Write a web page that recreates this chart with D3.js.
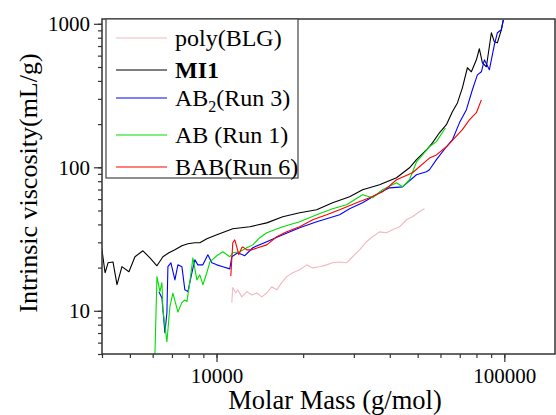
<!DOCTYPE html>
<html>
<head>
<meta charset="utf-8">
<script src="https://cdn.jsdelivr.net/npm/d3@7"></script>
<style>
    html, body { margin: 0; padding: 0; background: #fff; }
    svg { display: block; }
    svg text { font-family: "Liberation Serif", "Times New Roman", serif; }
</style>
</head>
<body>
<svg id="chart" width="556" height="415"></svg>
<script>
// Data: molar mass (g/mol) and intrinsic viscosity (mL/g)
const seriesNames = ['poly(BLG)', 'MI1', 'AB2(Run 3)', 'AB (Run 1)', 'BAB(Run 6)'];
const seriesColors = ['#f4b6c0', '#000000', '#0000ff', '#00dd00', '#ff0000'];

const polyMass = [11300, 11390, 11665, 11853, 12237, 12738, 13258, 13803, 14363, 14945, 15549, 16185, 16845, 17535, 18395, 19450, 20570, 21580, 22820, 24130, 25310, 26770, 28310, 29710, 31410, 33210, 34840, 36850, 38960, 40880, 43240, 45710, 47960, 50720, 52790];
const polyVisc = [11.4, 14.5, 13.3, 14.0, 12.5, 13.6, 12.9, 13.3, 12.5, 13.3, 14.7, 14.0, 15.7, 17.3, 18.4, 19.3, 20.9, 19.9, 20.3, 20.9, 21.6, 21.9, 21.6, 23.8, 26.6, 30.3, 32.8, 35.5, 35.0, 36.7, 38.5, 43.1, 45.2, 49.0, 51.4];

const mi1Mass = [3990, 4100, 4198, 4368, 4510, 4692, 4962, 5206, 5550, 5869, 6209, 6512, 6833, 7168, 7580, 7953, 8410, 8750, 9255, 10024, 11390, 13048, 14945, 16983, 19450, 22280, 25310, 29000, 32170, 36850, 42210, 46820, 49520, 53630, 56270, 59490, 62910, 66000, 68710, 71500, 74420, 76830, 79970, 81900, 83900, 86630, 90150, 92330, 94580, 97630, 99200];
const mi1Visc = [27.5, 18.4, 21.6, 21.9, 15.2, 20.3, 18.7, 23.8, 26.2, 23.4, 20.6, 23.8, 25.4, 26.6, 28.4, 29.3, 29.8, 29.8, 31.8, 33.9, 37.3, 38.5, 41.0, 45.2, 48.2, 50.6, 56.6, 62.3, 69.7, 75.5, 84.5, 99.2, 113, 132, 148, 174, 198, 244, 281, 358, 494, 463, 561, 670, 535, 502, 866, 749, 737, 908, 1066];

const ab2Mass = [6308, 6461, 6617, 6723, 6778, 6943, 7168, 7342, 7580, 7762, 7953, 8211, 8410, 8614, 8965, 9329, 9632, 10024, 10517, 11120, 11300, 11853, 12538, 13364, 14945, 16983, 19450, 22280, 24130, 26770, 29000, 32170, 36850, 39920, 44290, 49520, 53630, 54930, 58080, 62910, 66000, 69820, 73830, 77450, 80610, 83230, 85250, 88720, 92330, 94580, 97630, 99200];
const ab2Visc = [13.6, 12.3, 7.03, 9.7, 20.3, 21.6, 16.4, 20.9, 20.3, 14.0, 13.6, 18.4, 22.7, 20.9, 20.9, 24.6, 21.6, 20.9, 20.3, 19.6, 23.8, 25.4, 24.2, 27.5, 30.3, 33.9, 37.9, 41.7, 43.8, 46.7, 51.4, 56.6, 66.4, 71.9, 73.1, 88.7, 93.1, 96.1, 113, 139, 155, 204, 252, 347, 441, 463, 561, 478, 714, 866, 908, 1066];

const abMass = [6109, 6209, 6359, 6461, 6512, 6723, 6887, 7054, 7342, 7580, 7762, 7888, 8080, 8277, 8545, 8750, 8965, 9255, 9480, 10024, 10517, 11120, 11390, 12044, 12738, 13364, 14136, 14945, 16983, 19450, 22280, 25310, 28310, 32170, 34840, 37740, 42210, 44290, 46820, 49520, 51950, 54930, 58080, 62400];
const abVisc = [5.0, 17.3, 13.6, 15.7, 10.2, 6.08, 10.7, 13.3, 9.8, 11.4, 11.9, 11.6, 15.9, 23.4, 16.4, 17.8, 15.2, 18.4, 21.9, 24.2, 25.8, 23.8, 25.4, 25.8, 27.5, 28.8, 32.3, 35.0, 38.5, 41.7, 46.7, 51.4, 54.8, 64.3, 61.3, 69.7, 78.0, 73.1, 81.9, 109, 122, 139, 151, 188];

const babMass = [11210, 11390, 11573, 11758, 11948, 12237, 12335, 12738, 13258, 13912, 14945, 16185, 17535, 19450, 21580, 24130, 26770, 30670, 34020, 37740, 42210, 47960, 54930, 58080, 62910, 71500, 75620, 79970, 83230];
const babVisc = [17.5, 29.8, 31.2, 27.9, 24.6, 27.5, 27.9, 26.6, 26.6, 27.5, 28.8, 32.8, 35.5, 38.5, 43.1, 46.7, 50.6, 56.6, 61.3, 67.5, 81.9, 91.6, 116, 122, 139, 183, 214, 240, 295];

const xTickLabels = [10000, 100000];
const yTickLabels = [10, 100, 1000];

const seriesMass = [polyMass, mi1Mass, ab2Mass, abMass, babMass];
const seriesVisc = [polyVisc, mi1Visc, ab2Visc, abVisc, babVisc];

const FONT = '"Liberation Serif", "Times New Roman", serif';

const svg = d3.select('#chart');
const margin = { left: 102, top: 19, right: 1, bottom: 61 };
const width = 556 - margin.left - margin.right;
const height = 415 - margin.top - margin.bottom;

const x = d3.scaleLog().domain([4000, 150000]).range([0, width]);
const y = d3.scaleLog().domain([5, 1080]).range([height, 0]);

const g = svg.append('g').attr('transform', `translate(${margin.left},${margin.top})`);

svg.append('defs').append('clipPath').attr('id', 'plot-clip')
    .append('rect').attr('width', width).attr('height', height);

// minor + major ticks
function minorTicks(scale) {
    const [a, b] = scale.domain();
    const out = [];
    for (let p = Math.floor(Math.log10(a)); p <= Math.ceil(Math.log10(b)); p++) {
        for (let k = 1; k < 10; k++) {
            const v = k * Math.pow(10, p);
            if (v >= a && v <= b) out.push(v);
        }
    }
    return out;
}

const xAxisMinor = d3.axisBottom(x).tickValues(minorTicks(x)).tickSize(4).tickFormat('');
const xAxisMajor = d3.axisBottom(x).tickValues(xTickLabels).tickSize(8).tickPadding(6).tickFormat(d3.format('d'));
const yAxisMinor = d3.axisLeft(y).tickValues(minorTicks(y)).tickSize(4).tickFormat('');
const yAxisMajor = d3.axisLeft(y).tickValues(yTickLabels).tickSize(8).tickPadding(4).tickFormat(d3.format('d'));

[xAxisMinor, xAxisMajor].forEach(ax => {
    g.append('g').attr('class', 'x-axis').attr('transform', `translate(0,${height})`).call(ax);
});
[yAxisMinor, yAxisMajor].forEach(ax => {
    g.append('g').attr('class', 'y-axis').call(ax);
});
g.selectAll('.x-axis, .y-axis').attr('font-family', FONT);
g.selectAll('.x-axis .domain, .y-axis .domain').remove();
g.selectAll('.tick line').attr('stroke', '#333').attr('stroke-width', 1.2);
g.selectAll('.tick text')
    .attr('font-size', 21)
    .attr('fill', '#000')
    .style('font-family', FONT);

// curves
const line = d3.line()
    .x(d => x(d[0]))
    .y(d => y(d[1]));

const curves = g.append('g').attr('clip-path', 'url(#plot-clip)');
seriesNames.forEach((name, i) => {
    const pts = seriesMass[i].map((m, j) => [m, seriesVisc[i][j]]);
    curves.append('path')
        .datum(pts)
        .attr('d', line)
        .attr('fill', 'none')
        .attr('stroke', seriesColors[i])
        .attr('stroke-width', 1.1)
        .attr('stroke-linejoin', 'round');
});

// frame
g.append('rect')
    .attr('width', width).attr('height', height)
    .attr('fill', 'none').attr('stroke', '#333').attr('stroke-width', 1.5);

// legend
const legendY = [19, 51, 79, 116, 148];
const legend = g.append('g').attr('transform', 'translate(4,0)');
legend.append('rect')
    .attr('width', 192).attr('height', 159)
    .attr('fill', '#fff').attr('stroke', '#444').attr('stroke-width', 1.2);

seriesNames.forEach((name, i) => {
    const item = legend.append('g').attr('transform', `translate(0,${legendY[i]})`);
    item.append('line')
        .attr('x1', 10).attr('x2', 61)
        .attr('stroke', seriesColors[i]).attr('stroke-width', 1.1);
    const t = item.append('text')
        .attr('x', 69).attr('y', 8)
        .attr('font-size', 24).attr('fill', '#000')
        .style('font-family', FONT);
    if (name === 'MI1') {
        t.attr('font-weight', 'bold').text(name);
    } else if (name === 'AB2(Run 3)') {
        t.append('tspan').text('AB');
        t.append('tspan').attr('font-size', 16).attr('dy', 6).text('2');
        t.append('tspan').attr('dy', -6).text('(Run 3)');
    } else {
        t.text(name);
    }
});

// axis titles
svg.append('text')
    .attr('x', 335).attr('y', 409)
    .attr('text-anchor', 'middle')
    .attr('font-size', 26.5)
    .style('font-family', FONT)
    .text('Molar Mass (g/mol)');

svg.append('text')
    .attr('transform', 'translate(37,183) rotate(-90)')
    .attr('text-anchor', 'middle')
    .attr('font-size', 26)
    .style('font-family', FONT)
    .text('Intrinsic viscosity(mL/g)');
</script>
</body>
</html>
